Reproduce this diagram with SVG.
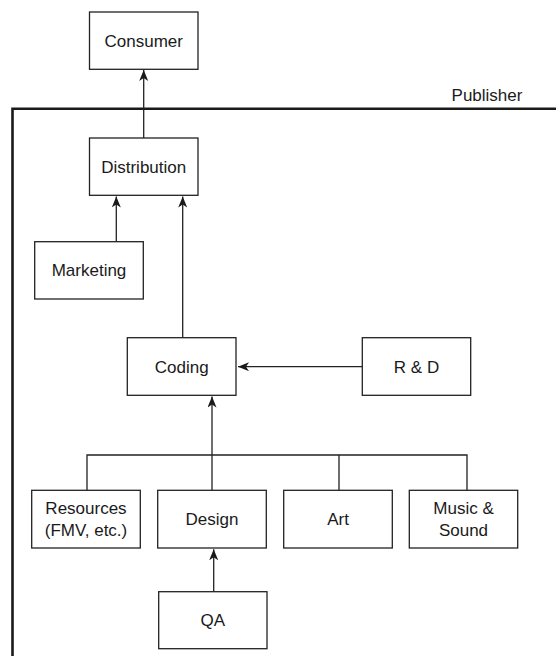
<svg xmlns="http://www.w3.org/2000/svg" width="556" height="656" viewBox="0 0 556 656">
<defs>
<style>
.box{fill:#fff;stroke:#222;stroke-width:1.3}
.t{font-family:"Liberation Sans",Arial,sans-serif;font-size:17px;fill:#1a1a1a;text-anchor:middle}
.c{fill:none;stroke:#222;stroke-width:1.3}
.frame{fill:none;stroke:#1a1a1a;stroke-width:2.6}
</style>
<marker id="ah" markerUnits="userSpaceOnUse" markerWidth="12" markerHeight="10" refX="11" refY="4.5" orient="auto">
<path d="M0,0 L11,4.5 L0,9 L3,4.5 z" fill="#1a1a1a"/>
</marker>
</defs>
<rect width="556" height="656" fill="#fff"/>
<g id="publisher">
<path class="frame" d="M12.5,656 V108.7 H556"/>
<text class="t" x="487" y="101" style="text-anchor:middle">Publisher</text>
</g>
<g id="connectors">
<line class="c" x1="143.7" y1="138" x2="143.7" y2="70" marker-end="url(#ah)"/>
<line class="c" x1="116.3" y1="241.7" x2="116.3" y2="196.5" marker-end="url(#ah)"/>
<line class="c" x1="182.7" y1="337.7" x2="182.7" y2="196.5" marker-end="url(#ah)"/>
<line class="c" x1="362.3" y1="366.7" x2="238" y2="366.7" marker-end="url(#ah)"/>
<line class="c" x1="212" y1="490" x2="212" y2="396.5" marker-end="url(#ah)"/>
<path class="c" d="M87,490 V455 H467 V490 M339,455 V490"/>
<line class="c" x1="213.7" y1="591.7" x2="213.7" y2="549.3" marker-end="url(#ah)"/>
</g>
<g id="consumer">
<rect class="box" x="89.5" y="12" width="108.5" height="57.3"/>
<text class="t" x="143.7" y="46.5">Consumer</text>
</g>
<g id="distribution">
<rect class="box" x="89.5" y="138" width="108.5" height="57.3"/>
<text class="t" x="143.7" y="172.5">Distribution</text>
</g>
<g id="marketing">
<rect class="box" x="34.7" y="241.7" width="108.6" height="57.3"/>
<text class="t" x="89" y="276.3">Marketing</text>
</g>
<g id="coding">
<rect class="box" x="127.3" y="337.7" width="108.7" height="57.6"/>
<text class="t" x="181.7" y="372.5">Coding</text>
</g>
<g id="rnd">
<rect class="box" x="362.3" y="337.7" width="108.4" height="57.6"/>
<text class="t" x="416.5" y="372.5">R &amp; D</text>
</g>
<g id="resources">
<rect class="box" x="31.7" y="490.3" width="108.6" height="57.7"/>
<text class="t" x="86" y="514">Resources</text>
<text class="t" x="86" y="536">(FMV, etc.)</text>
</g>
<g id="design">
<rect class="box" x="157.7" y="490.3" width="108.6" height="57.7"/>
<text class="t" x="212" y="525">Design</text>
</g>
<g id="art">
<rect class="box" x="283.7" y="490.3" width="108.6" height="57.7"/>
<text class="t" x="338" y="525">Art</text>
</g>
<g id="music">
<rect class="box" x="409.3" y="490.3" width="108.4" height="57.7"/>
<text class="t" x="463.5" y="514">Music &amp;</text>
<text class="t" x="463.5" y="536">Sound</text>
</g>
<g id="qa">
<rect class="box" x="158.7" y="591.7" width="108.3" height="57"/>
<text class="t" x="212.8" y="626">QA</text>
</g>
</svg>
